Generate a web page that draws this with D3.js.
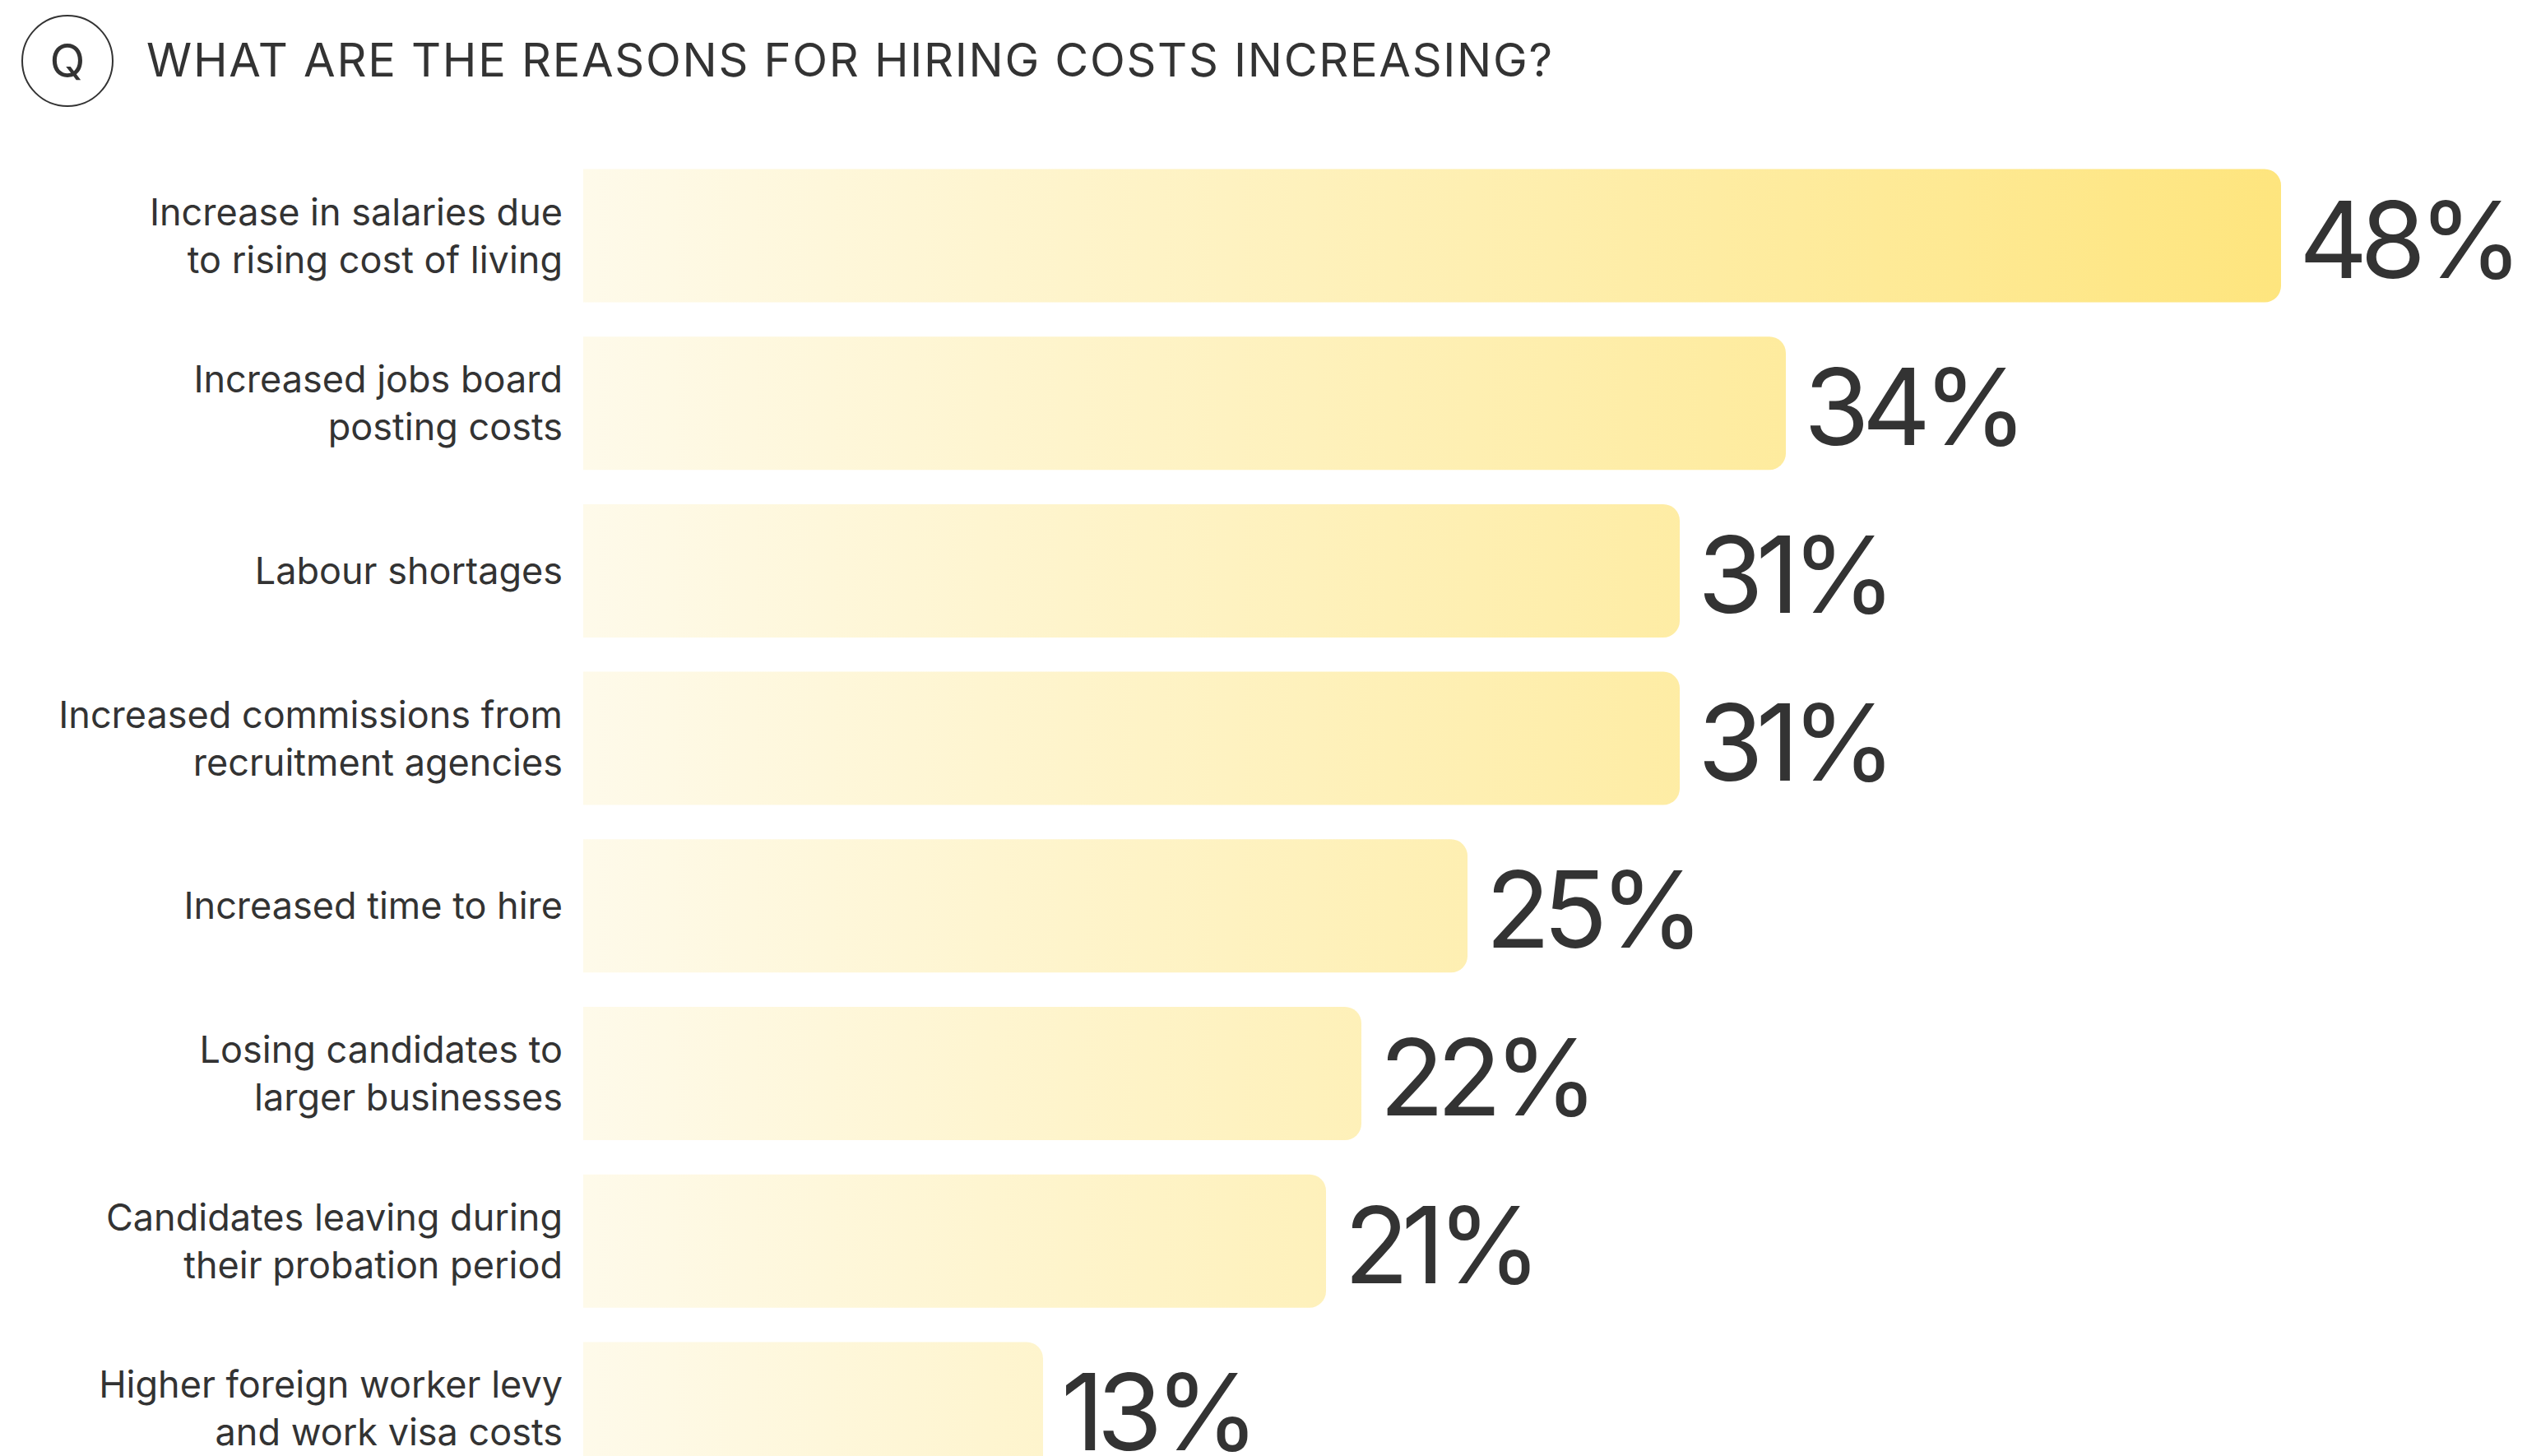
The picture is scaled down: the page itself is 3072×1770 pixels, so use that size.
<!DOCTYPE html>
<html>
<head>
<meta charset="utf-8">
<script src="https://cdn.jsdelivr.net/npm/d3@7"></script>
<style>
  html, body { margin: 0; padding: 0; background: #ffffff; }
  svg { display: block; }
  text { font-family: Inter, "Noto Sans", sans-serif; fill: #333333; }
</style>
</head>
<body>
<svg id="chart" width="3072" height="1770"></svg>
<script>
// Survey question and answers
const question = "WHAT ARE THE REASONS FOR HIRING COSTS INCREASING?";
const categories = [
  ["Increase in salaries due", "to rising cost of living"],
  ["Increased jobs board", "posting costs"],
  ["Labour shortages"],
  ["Increased commissions from", "recruitment agencies"],
  ["Increased time to hire"],
  ["Losing candidates to", "larger businesses"],
  ["Candidates leaving during", "their probation period"],
  ["Higher foreign worker levy", "and work visa costs"]
];
const values = [48, 34, 31, 31, 25, 22, 21, 13];

const barLeft = 709, barRight = 2773;
const barTop = 205.5, barStep = 203.7, barH = 162;
const radius = 20;

const svg = d3.select("#chart");

// Horizontal scale: percentage to pixels
const x = d3.scaleLinear()
  .domain([0, d3.max(values)])
  .range([barLeft, barRight]);

// Vertical bands, one per answer
const y = d3.scaleBand()
  .domain(d3.range(values.length))
  .range([barTop, barTop + (values.length - 1) * barStep + barH])
  .paddingInner(1 - barH / barStep)
  .paddingOuter(0);

// Shared gradient across the full bar span
const defs = svg.append("defs");
const grad = defs.append("linearGradient")
  .attr("id", "barGrad")
  .attr("gradientUnits", "userSpaceOnUse")
  .attr("x1", x(0)).attr("x2", x(d3.max(values)))
  .attr("y1", 0).attr("y2", 0);
grad.append("stop").attr("offset", "0%").attr("stop-color", "#fefaea");
grad.append("stop").attr("offset", "100%").attr("stop-color", "#fee57e");

// Header: circled Q and the question text
svg.append("circle")
  .attr("cx", 82).attr("cy", 74).attr("r", 55)
  .attr("fill", "none").attr("stroke", "#333333").attr("stroke-width", 2);
svg.append("text")
  .attr("x", 82).attr("y", 94)
  .attr("text-anchor", "middle")
  .style("font-size", "56px")
  .text("Q");
svg.append("text")
  .attr("x", 178).attr("y", 93)
  .style("font-size", "56px")
  .style("letter-spacing", "1.7px")
  .text(question);

// Bars: square on the left, rounded on the right
function barPath(v, top) {
  const x0 = x(0), x1 = x(v), y0 = top, y1 = top + y.bandwidth();
  const r = Math.min(radius, (x1 - x0) / 2);
  return `M${x0},${y0}H${x1 - r}A${r},${r} 0 0 1 ${x1},${y0 + r}` +
         `V${y1 - r}A${r},${r} 0 0 1 ${x1 - r},${y1}H${x0}Z`;
}

const rows = svg.append("g").selectAll("g")
  .data(values.map((v, i) => ({ v, i, lines: categories[i] })))
  .join("g");

rows.append("path")
  .attr("d", d => barPath(d.v, y(d.i)))
  .attr("fill", "url(#barGrad)");

// Category labels, right-aligned to the left of the bars
const lineH = 58;
rows.append("text")
  .attr("text-anchor", "end")
  .style("font-size", "45px")
  .selectAll("tspan")
  .data(d => d.lines.map((t, k) => ({ t, k, n: d.lines.length, cy: y(d.i) + y.bandwidth() / 2 })))
  .join("tspan")
  .attr("x", 684)
  .attr("y", d => d.cy + 16 + (d.k - (d.n - 1) / 2) * lineH)
  .text(d => d.t);

// Value labels
rows.append("text")
  .attr("x", d => x(d.v) + 22)
  .attr("y", d => y(d.i) + y.bandwidth() / 2 + 51)
  .style("font-size", "129px")
  .style("letter-spacing", "-9px")
  .text(d => d.v + "%");
</script>
</body>
</html>
